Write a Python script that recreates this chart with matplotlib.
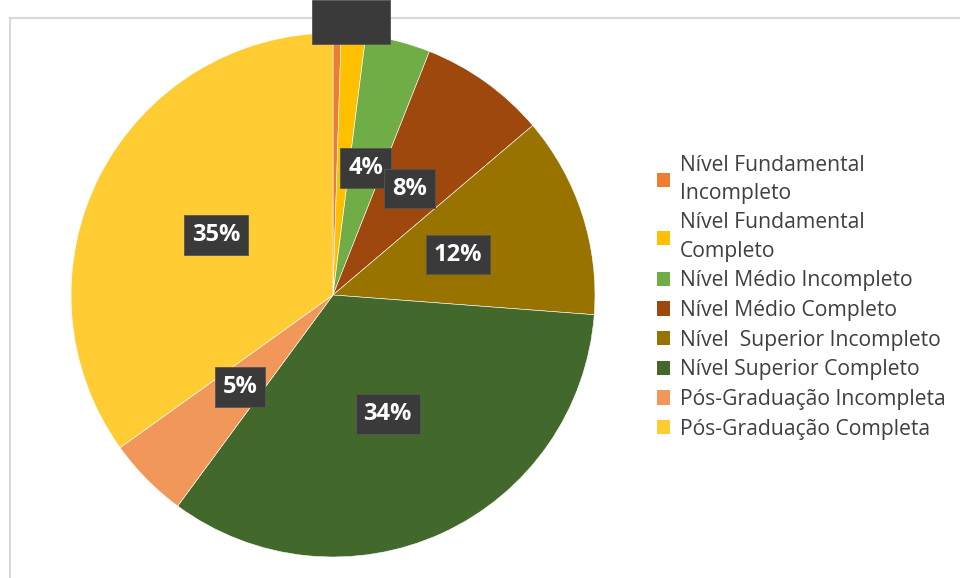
import matplotlib.pyplot as plt
from matplotlib.patches import Rectangle
from matplotlib.lines import Line2D

# education level share (%), clockwise from 12 o'clock
categories = [
    "Nível Fundamental\nIncompleto",
    "Nível Fundamental\nCompleto",
    "Nível Médio Incompleto",
    "Nível Médio Completo",
    "Nível  Superior Incompleto",
    "Nível Superior Completo",
    "Pós-Graduação Incompleta",
    "Pós-Graduação Completa",
]
shares = [0.5, 1.5, 4.0, 7.8, 12.4, 33.9, 5.0, 34.9]
colors = ["#ED7D31", "#FFC000", "#70AD47", "#9E480E",
          "#997300", "#43682B", "#F1975A", "#FFCD33"]

plt.rcParams['font.family'] = ['Open Sans', 'DejaVu Sans']

fig = plt.figure(figsize=(9.6, 5.78), dpi=100)

# light outline of the chart area
fig.add_artist(Line2D([10/960, 1], [1 - 18/578, 1 - 18/578], color="#d9d9d9", lw=1.5, zorder=0))
fig.add_artist(Line2D([10/960, 10/960], [0, 1 - 18/578], color="#d9d9d9", lw=1.5, zorder=0))

ax = fig.add_axes([71/960, 1 - 557/578, 524/960, 524/578])


def fmt(p):
    return f"{p:.0f}%" if p >= 3 else ""


wedges, texts, autotexts = ax.pie(
    shares, colors=colors, startangle=90, counterclock=False,
    autopct=fmt, pctdistance=0.5,
    wedgeprops=dict(edgecolor="white", linewidth=0.4),
)
for t in autotexts:
    t.set_color("white")
    t.set_fontsize(17)
    t.set_fontweight("bold")
    if t.get_text():
        t.set_bbox(dict(boxstyle="square,pad=0.33", facecolor="#3a3a3a",
                        edgecolor="#555555", linewidth=0.6))
ax.set_xlim(-1, 1)
ax.set_ylim(-1, 1)
ax.set_aspect("equal")
ax.axis("off")

# labels of the two thin slices pushed above the frame
fig.add_artist(Rectangle((312/960, 1 - 44/578), 78/960, 44/578,
                         facecolor="#3a3a3a", edgecolor="#555555", lw=0.6, zorder=5))

handles = [plt.Rectangle((0, 0), 1, 1, facecolor=c) for c in colors]
leg = fig.legend(handles, categories, loc="upper left",
                 bbox_to_anchor=(646/960, 1 - 144/578), frameon=False,
                 fontsize=15.2, handlelength=0.65, handleheight=0.65,
                 handletextpad=0.45, labelspacing=0.41, borderpad=0)
for t in leg.get_texts():
    t.set_linespacing(1.45)
    t.set_color("#404040")

fig.savefig("out.png", dpi=100)
